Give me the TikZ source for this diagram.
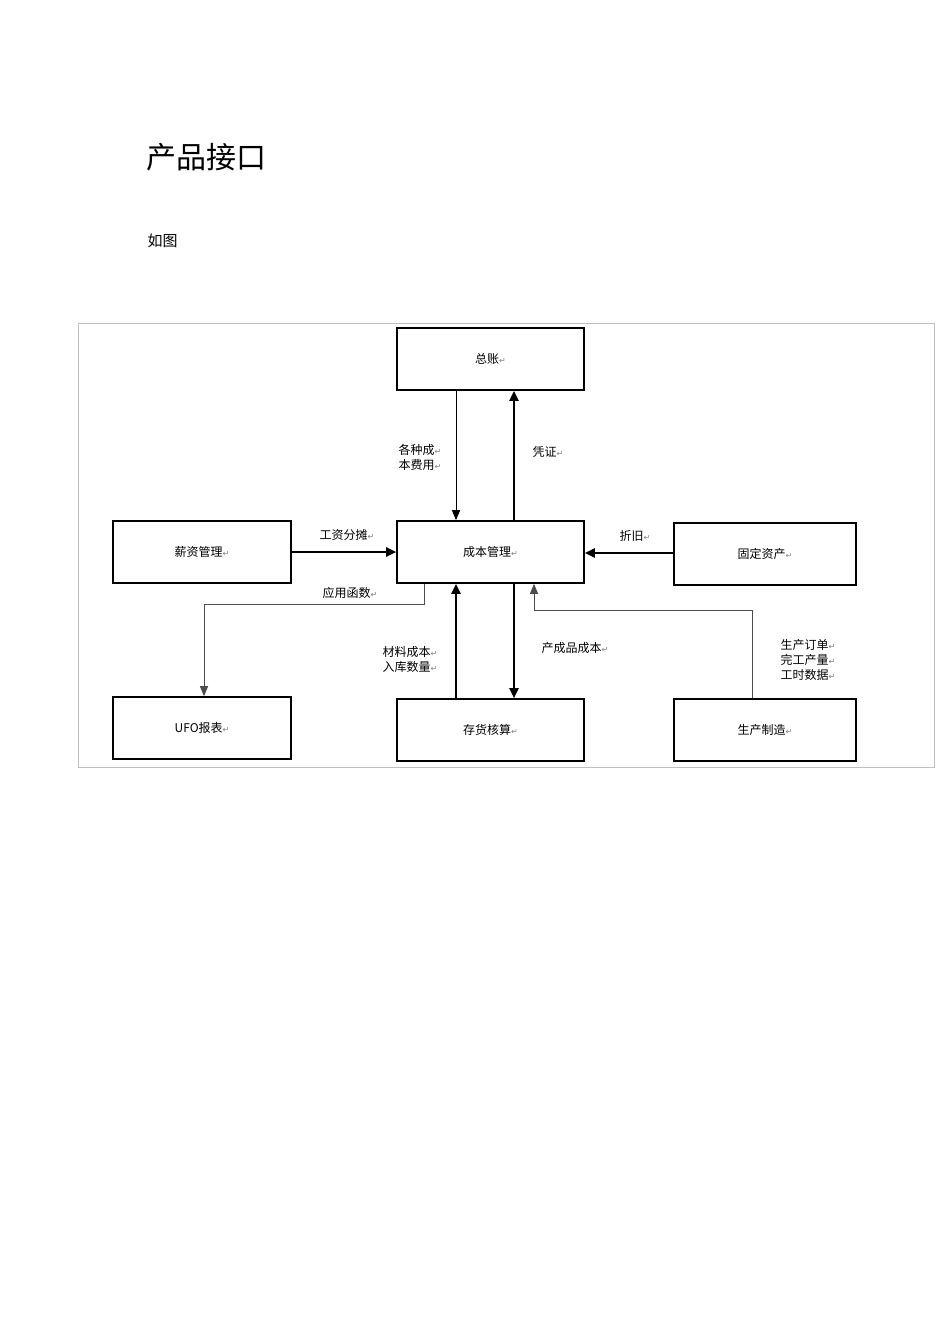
\documentclass[tikz,border=0pt]{standalone}
\usepackage{fontspec}
\newfontfamily\cjk{Noto Sans CJK SC}
\newfontfamily\dv{DejaVu Sans}
\usetikzlibrary{arrows.meta}
\newcommand{\rt}{{\dv\color{gray}\fontsize{8}{8}\selectfont ↵}}
\begin{document}
\begin{tikzpicture}[x=1pt,y=-1pt,
  box/.style={draw,line width=1.6pt,minimum width=#1,minimum height=62pt,inner sep=0pt,font=\cjk\fontsize{12}{12}\selectfont},
  box/.default=187pt,
  thick arrow/.style={line width=2.2pt,-{Triangle[length=10pt,width=9pt]}},
  thin arrow/.style={line width=1pt,-{Triangle[length=10pt,width=8pt]}},
  gray arrow/.style={line width=0.9pt,draw=black!70,-{Triangle[length=10pt,width=8pt]}},
  lbl/.style={font=\cjk\fontsize{12}{15}\selectfont,align=left,inner sep=0pt}]
\useasboundingbox (0,0) rectangle (950,1344);
\fill[white] (0,0) rectangle (950,1344);
\node[font=\cjk\fontsize{30}{30}\selectfont,anchor=west] (title) at (143,157) {产品接口};
\node[font=\cjk\fontsize{15}{15}\selectfont,anchor=west] (sub) at (144,241) {如图};
\draw[black!25,line width=0.8pt] (78,323) rectangle (934,767);
\node[box] (zz) at (490.5,359) {总账\rt};
\node[box] (cb) at (490.5,552) {成本管理\rt};
\node[box=178pt] (xz) at (202,552) {薪资管理\rt};
\node[box=182pt] (gd) at (765,554) {固定资产\rt};
\node[box=178pt] (ufo) at (202,728) {UFO报表\rt};
\node[box] (ch) at (490.5,730) {存货核算\rt};
\node[box=182pt] (sc) at (765,730) {生产制造\rt};
\draw[thin arrow] (zz.south -| 456,0) -- (cb.north -| 456,0);
\draw[thick arrow] (cb.north -| 514,0) -- (zz.south -| 514,0);
\draw[thick arrow] (xz.east |- 0,552) -- (cb.west |- 0,552);
\draw[thick arrow] (gd.west |- 0,553) -- (cb.east |- 0,553);
\draw[thick arrow] (ch.north -| 456,0) -- (cb.south -| 456,0);
\draw[thick arrow] (cb.south -| 514,0) -- (ch.north -| 514,0);
\coordinate (g1) at (424,604); \coordinate (g2) at (204,604);
\draw[gray arrow] (cb.south -| 424,0) -- (g1) -- (g2) -- (ufo.north -| 204,0);
\coordinate (s1) at (752,610); \coordinate (s2) at (534,610);
\draw[gray arrow] (sc.north -| 752,0) -- (s1) -- (s2) -- (cb.south -| 534,0);
\node[lbl] (l1) at (420,457) {各种成\rt\\本费用\rt};
\node[lbl] (l2) at (548,452) {凭证\rt};
\node[lbl] (l3) at (347,535) {工资分摊\rt};
\node[lbl] (l4) at (635,536) {折旧\rt};
\node[lbl] (l5) at (350,593) {应用函数\rt};
\node[lbl] (l6) at (410,659) {材料成本\rt\\入库数量\rt};
\node[lbl] (l7) at (575,648) {产成品成本\rt};
\node[lbl] (l8) at (808,660) {生产订单\rt\\完工产量\rt\\工时数据\rt};
\end{tikzpicture}
\end{document}
